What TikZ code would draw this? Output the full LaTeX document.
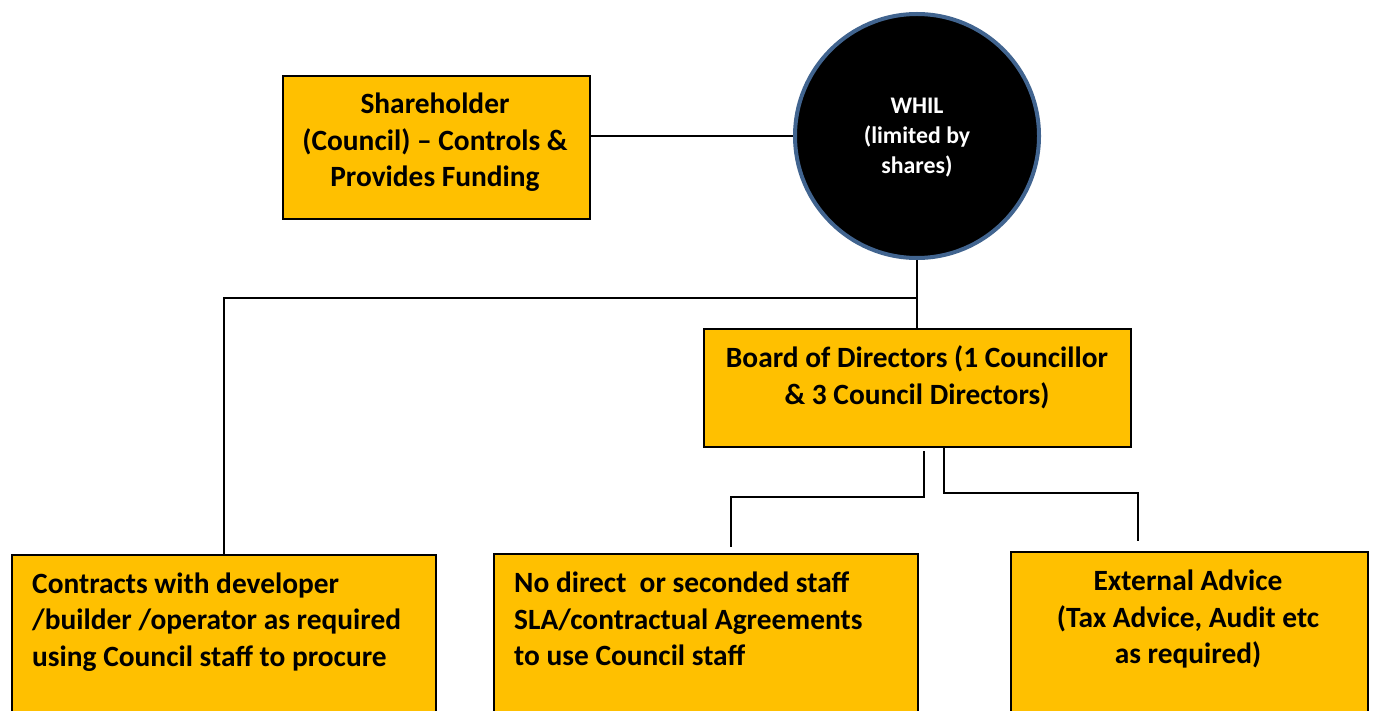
\documentclass[tikz,border=0pt]{standalone}
\usepackage{fontspec}
\setmainfont{Carlito}
\begin{document}
\begin{tikzpicture}[x=1pt,y=-1pt,
  box/.style={draw=black,line width=1.8pt,fill=gold,rectangle,inner sep=0pt,anchor=north west},
  txt/.style={inner sep=0pt,font=\fontsize{29.4}{36.6}\selectfont\bfseries},
  conn/.style={draw=black,line width=1.8pt}]
\definecolor{gold}{HTML}{FFC000}
\definecolor{ringblue}{HTML}{41648F}
\useasboundingbox (0,0) rectangle (1375,711);
\clip (0,0) rectangle (1375,711);
% boxes
\node[box,minimum width=307pt,minimum height=143pt] (sh) at (282,75) {};
\node[box,minimum width=427pt,minimum height=118pt] (board) at (703,328) {};
\node[box,minimum width=424pt,minimum height=170pt] (contracts) at (11,554) {};
\node[box,minimum width=424pt,minimum height=170pt] (nodirect) at (493,553) {};
\node[box,minimum width=357pt,minimum height=170pt] (external) at (1010,551) {};
% circle
\node[circle,fill=black,draw=ringblue,line width=4pt,minimum size=244pt,inner sep=0pt] (whil) at (917,136) {};
% texts
\node[txt,align=center] (shT) at (435,142.5) {Shareholder\\(Council) – Controls \&\\Provides Funding};
\node[txt,align=center,text=white,font=\fontsize{23.8}{30}\selectfont\bfseries] (whilT) at (917,138) {WHIL\\(limited by\\shares)};
\node[txt,align=center] (boardT) at (917,377.5) {Board of Directors (1 Councillor\\\& 3 Council Directors)};
\node[txt,align=left,anchor=west] (contractsT) at (32,622) {Contracts with developer\\/builder /operator as required\\using Council staff to procure};
\node[txt,align=left,anchor=west] (nodirectT) at (514,619) {No direct\ \ or seconded staff\\SLA/contractual Agreements\\to use Council staff};
\node[txt,align=center] (externalT) at (1188,619) {External Advice\\(Tax Advice, Audit etc\\as required)};
% connectors
\coordinate (j1) at (917,298);
\coordinate (bl1) at (924,451);
\coordinate (bl2) at (731,547);
\coordinate (br1) at (944,447);
\coordinate (br2) at (1138,541);
\draw[conn] (sh.east |- whil.west) -- (whil.west);
\draw[conn] (whil.south) -- (whil.south |- board.north);
\draw[conn] (j1) -| (contracts.north);
\draw[conn] (bl1) -- (bl1 |- 0,497) -| (bl2);
\draw[conn] (br1) -- (br1 |- 0,493) -| (br2);
\end{tikzpicture}
\end{document}
